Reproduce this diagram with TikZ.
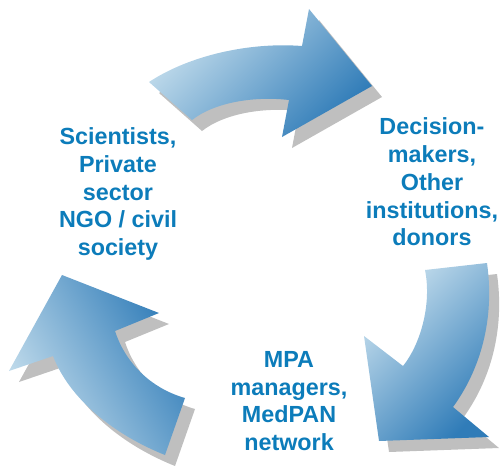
\documentclass[tikz,border=0pt]{standalone}
\usepackage{fontspec}
\setmainfont{Liberation Sans}
\usepackage{tikz}
\definecolor{textblue}{RGB}{12,124,186}
\definecolor{arrowlight}{RGB}{200,224,238}
\definecolor{arrowdark}{RGB}{48,124,184}
\definecolor{shadowgray}{RGB}{191,191,191}
\tikzset{
  cycletext/.style={font=\bfseries\fontsize{17.5}{20.8}\selectfont, text=textblue, align=center},
  arrowshadow/.style={fill=shadowgray, shift={(10,11)}},
}
\newcommand{\toparrowpath}{(149,82) .. controls (190,55) and (250,42) .. (302,46) -- (309,9) -- (372,86) -- (282,137) -- (289,100) .. controls (255,96) and (215,102) .. (192,120) -- cycle}
\newcommand{\rightarrowpath}{(425,270) -- (487,263) .. controls (495,320) and (480,370) .. (453,407) -- (489,437) -- (379,441) -- (364,336) -- (403,366) .. controls (420,345) and (432,305) .. (425,270) -- cycle}
\newcommand{\leftarrowpath}{(185,398) -- (165,455) .. controls (115,435) and (70,400) .. (53,356) -- (9,371) -- (62,275) -- (159,313) -- (115,331) .. controls (125,362) and (150,388) .. (185,398) -- cycle}
\begin{document}
\begin{tikzpicture}[x=0.75pt,y=-0.75pt]
    \useasboundingbox (0,0) rectangle (500,465);
    % shadows
    \fill[arrowshadow] \toparrowpath;
    \fill[arrowshadow] \rightarrowpath;
    \fill[arrowshadow] \leftarrowpath;
    % arrows
    \shade[top color=arrowlight, bottom color=arrowdark, shading angle=45] \toparrowpath;
    \shade[top color=arrowlight, bottom color=arrowdark, shading angle=45] \rightarrowpath;
    \shade[top color=arrowdark, bottom color=arrowlight, shading angle=-60] \leftarrowpath;
    % labels
    \node[cycletext] (science) at (118,194) {Scientists,\\Private\\sector\\NGO / civil\\society};
    \node[cycletext] (decision) at (432,182) {Decision-\\makers,\\Other\\institutions,\\donors};
    \node[cycletext] (managers) at (289,401) {MPA\\managers,\\MedPAN\\network};
\end{tikzpicture}
\end{document}
